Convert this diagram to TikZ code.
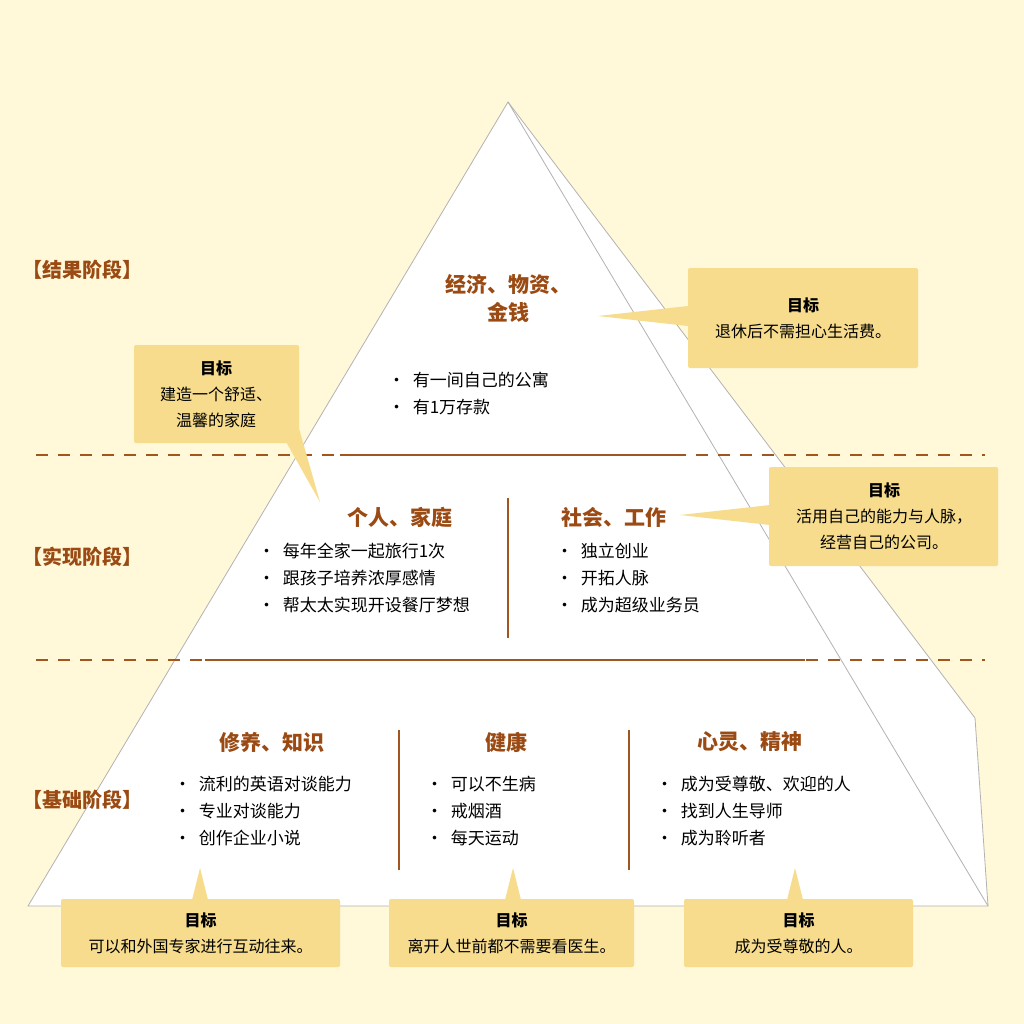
\documentclass[tikz,border=0pt]{standalone}
\usepackage{fontspec}
\setmainfont{Noto Sans CJK SC}
\usetikzlibrary{positioning}
\definecolor{bgcol}{HTML}{FFF8D9}
\definecolor{notecol}{HTML}{F6DC8C}
\definecolor{headcol}{HTML}{9A4A12}
\definecolor{linecol}{HTML}{A0561E}
\tikzset{x=1pt, y=-1pt,
  head/.style={font=\fontsize{21}{24}\selectfont\bfseries, text=headcol, align=center},
  items/.style={font=\fontsize{17}{27}\selectfont, align=left, anchor=north west, inner sep=0pt},
  stage/.style={font=\fontsize{20}{24}\selectfont\bfseries, text=headcol},
  note/.style={fill=notecol, rounded corners=2pt},
  notetext/.style={font=\fontsize{16}{26}\selectfont, align=center},
  sep/.style={linecol, line width=1.2pt}}
\begin{document}
\begin{tikzpicture}
  \fill[bgcol] (0,0) rectangle (1024,1024);
  % pyramid
  \coordinate (apex) at (508,102);
  \coordinate (bl) at (28,906);
  \coordinate (br) at (988,906);
  \coordinate (sr) at (975,718);
  \filldraw[fill=white, draw=gray!60, line width=0.8pt] (apex) -- (sr) -- (br) -- (bl) -- cycle;
  \draw[gray!60, line width=0.8pt] (apex) -- (br);
  % stage lines
  \draw[linecol, dashed, dash pattern=on 12pt off 10pt, line width=1.2pt] (36,455) -- (985,455);
  \draw[linecol, dashed, dash pattern=on 12pt off 10pt, line width=1.2pt] (36,660) -- (985,660);
  \draw[linecol, line width=1.2pt] (340,455) -- (675,455);
  \draw[linecol, line width=1.2pt] (205,660) -- (805,660);
  \draw[sep] (508,498) -- (508,638);
  \draw[sep] (399,730) -- (399,870);
  \draw[sep] (629,730) -- (629,870);
  % stages
  \node[stage] (s1) at (82,270) {【结果阶段】};
  \node[stage] (s2) at (82,557) {【实现阶段】};
  \node[stage] (s3) at (82,800) {【基础阶段】};
  % top
  \node[head] (h1) at (508,298) {经济、物资、\\[4pt]金钱};
  \node[items] (i1) at (388,372) {•\ \ 有一间自己的公寓\\•\ \ 有1万存款};
  % middle
  \node[head] (h2) at (400,517) {个人、家庭};
  \node[items] (i2) at (258,543) {•\ \ 每年全家一起旅行1次\\•\ \ 跟孩子培养浓厚感情\\•\ \ 帮太太实现开设餐厅梦想};
  \node[head] (h3) at (614,517) {社会、工作};
  \node[items] (i3) at (556,543) {•\ \ 独立创业\\•\ \ 开拓人脉\\•\ \ 成为超级业务员};
  % bottom
  \node[head] (h4) at (272,742) {修养、知识};
  \node[items] (i4) at (174,776) {•\ \ 流利的英语对谈能力\\•\ \ 专业对谈能力\\•\ \ 创作企业小说};
  \node[head] (h5) at (506,742) {健康};
  \node[items] (i5) at (426,776) {•\ \ 可以不生病\\•\ \ 戒烟酒\\•\ \ 每天运动};
  \node[head] (h6) at (750,742) {心灵、精神};
  \node[items] (i6) at (656,776) {•\ \ 成为受尊敬、欢迎的人\\•\ \ 找到人生导师\\•\ \ 成为聆听者};
  % notes
  \fill[notecol] (688,306) -- (598,316) -- (688,326) -- cycle;
  \fill[note] (688,268) rectangle (918,368);
  \node[notetext] (n1) at (803,318) {\textbf{目标}\\退休后不需担心生活费。};
  \fill[notecol] (285,440) -- (320,502) -- (298,425) -- cycle;
  \fill[note] (134,345) rectangle (299,443);
  \node[notetext] (n2) at (216,394) {\textbf{目标}\\建造一个舒适、\\温馨的家庭};
  \fill[notecol] (770,505) -- (680,515) -- (770,525) -- cycle;
  \fill[note] (769,467) rectangle (998,566);
  \node[notetext] (n3) at (884,516) {\textbf{目标}\\活用自己的能力与人脉，\\经营自己的公司。};
  \foreach \l/\r/\p/\t/\n in {61/340/200/可以和外国专家进行互动往来。/n4, 389/634/513/离开人世前都不需要看医生。/n5, 684/913/795/成为受尊敬的人。/n6}{
    \fill[notecol] (\p-8,900) -- (\p,868) -- (\p+8,900) -- cycle;
    \fill[note] (\l,899) rectangle (\r,967);
    \node[notetext] (\n) at ({(\l+\r)/2},933) {\textbf{目标}\\\t};
  }
\end{tikzpicture}
\end{document}
